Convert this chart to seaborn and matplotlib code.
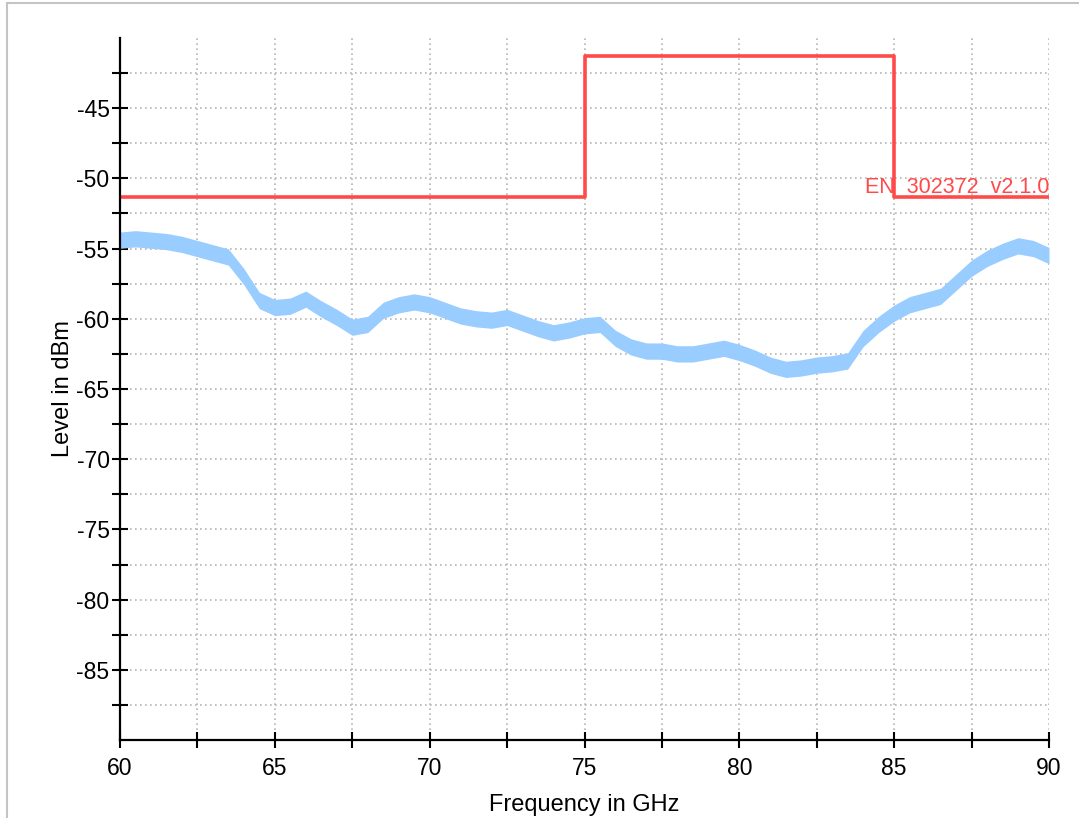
import matplotlib
matplotlib.use("Agg")
import matplotlib.pyplot as plt
from matplotlib.lines import Line2D
from matplotlib.ticker import MultipleLocator
import pandas as pd
import seaborn as sns

# --- measured trace (band centre, dBm), read every 0.5 GHz ---
freq_ghz = [60.0, 60.5, 61.0, 61.5, 62.0, 62.5, 63.0, 63.5, 64.0, 64.5,
            65.0, 65.5, 66.0, 66.5, 67.0, 67.5, 68.0, 68.5, 69.0, 69.5,
            70.0, 70.5, 71.0, 71.5, 72.0, 72.5, 73.0, 73.5, 74.0, 74.5,
            75.0, 75.5, 76.0, 76.5, 77.0, 77.5, 78.0, 78.5, 79.0, 79.5,
            80.0, 80.5, 81.0, 81.5, 82.0, 82.5, 83.0, 83.5, 84.0, 84.5,
            85.0, 85.5, 86.0, 86.5, 87.0, 87.5, 88.0, 88.5, 89.0, 89.5,
            90.0]
level_dbm = [-54.4, -54.3, -54.4, -54.5, -54.7, -55.0, -55.3, -55.6, -57.0, -58.7,
             -59.2, -59.1, -58.6, -59.3, -59.9, -60.6, -60.4, -59.4, -59.0, -58.8,
             -59.0, -59.4, -59.8, -60.0, -60.1, -59.9, -60.3, -60.7, -61.0, -60.8,
             -60.5, -60.4, -61.4, -62.0, -62.3, -62.3, -62.5, -62.5, -62.3, -62.1,
             -62.4, -62.8, -63.3, -63.6, -63.5, -63.3, -63.2, -63.0, -61.4, -60.4,
             -59.6, -59.0, -58.7, -58.4, -57.4, -56.4, -55.7, -55.2, -54.8, -55.0,
             -55.5]
band_halfwidth = 0.58  # trace noise spread, dB

# --- limit line EN 302372 ---
limit_freq = [60, 75, 85, 90]
limit_level = [-51.3, -41.3, -51.3, -51.3]
limit_name = "EN  302372  v2.1.0"

trace = pd.DataFrame({"freq": freq_ghz, "level": level_dbm})
limit = pd.DataFrame({"freq": limit_freq, "level": limit_level})

sns.set_style("white")
plt.rcParams["font.family"] = ["Liberation Sans", "DejaVu Sans"]
plt.rcParams["axes.unicode_minus"] = False

fig = plt.figure(figsize=(10.79, 8.18), dpi=100)
ax = fig.add_axes([120 / 1079, 1 - 740 / 818, 929 / 1079, 702 / 818])

blue = "#99ccff"
red = "#ff4a4a"
fs = 16.5

ax.fill_between(trace["freq"], trace["level"] - band_halfwidth,
                trace["level"] + band_halfwidth, color=blue, lw=0, zorder=3)
sns.lineplot(data=trace, x="freq", y="level", ax=ax, color=blue, lw=3, zorder=3)
sns.lineplot(data=limit, x="freq", y="level", ax=ax, color=red, lw=2.6,
             drawstyle="steps-post", zorder=4)
ax.text(90, -51.05, limit_name, color=red, fontsize=15.5, ha="right", va="baseline", zorder=5)

ax.set_xlim(60, 90)
ax.set_ylim(-90, -40)
ax.xaxis.set_major_locator(MultipleLocator(5))
ax.xaxis.set_minor_locator(MultipleLocator(2.5))
ax.set_yticks([-85, -80, -75, -70, -65, -60, -55, -50, -45])
ax.set_yticks([-87.5, -82.5, -77.5, -72.5, -67.5, -62.5, -57.5, -52.5, -47.5, -42.5], minor=True)

ax.tick_params(which="both", direction="inout", length=11, width=1.5, color="black",
               labelsize=fs, labelcolor="black", bottom=True, left=True)
ax.tick_params(axis="x", which="both", pad=7)
ax.tick_params(axis="y", which="both", pad=2)
ax.grid(True, which="both", ls=(0, (1, 2)), color="#b5b5b5", lw=1.2, zorder=0)
ax.set_axisbelow(True)

for side in ["top", "right"]:
    ax.spines[side].set_visible(False)
for side in ["left", "bottom"]:
    ax.spines[side].set_color("black")
    ax.spines[side].set_linewidth(1.6)
    ax.spines[side].set_zorder(6)

ax.set_xlabel("Frequency in GHz", fontsize=17, color="black", labelpad=10)
ax.set_ylabel("Level in dBm", fontsize=17, color="black", labelpad=2)

# light frame around the plot window
fig.add_artist(Line2D([6.5 / 1079, 6.5 / 1079], [0, 1 - 3 / 818], color="#c4c4c4", lw=1.5))
fig.add_artist(Line2D([6.5 / 1079, 1], [1 - 3 / 818, 1 - 3 / 818], color="#c4c4c4", lw=1.5))

fig.savefig("out.png", dpi=100)
